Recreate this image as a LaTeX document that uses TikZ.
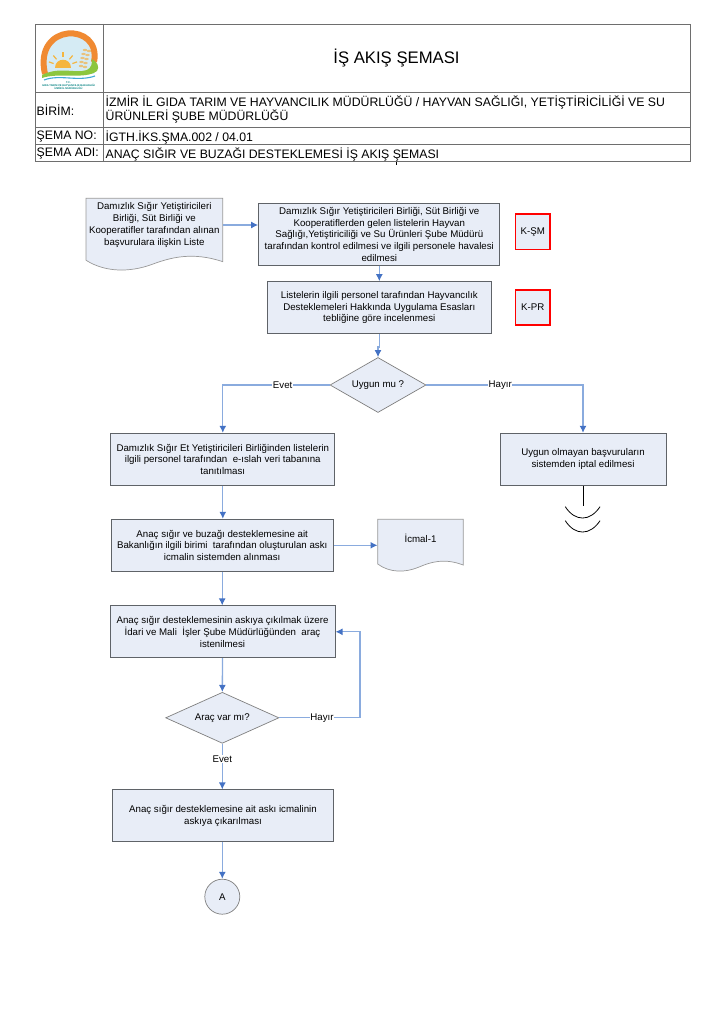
\documentclass[tikz,border=0pt]{standalone}
\usepackage{fontspec}
\setmainfont{Liberation Sans}
\usetikzlibrary{arrows.meta,shapes.geometric}
\definecolor{boxfill}{HTML}{E8EDF7}
\definecolor{boxline}{HTML}{5F6368}
\definecolor{flowline}{HTML}{8AABDE}
\definecolor{flowtip}{HTML}{4472C4}
\definecolor{gridline}{HTML}{6E6E6E}
\definecolor{logosky}{HTML}{D5EBF4}
\definecolor{logoarc}{HTML}{F08A32}
\definecolor{logosun}{HTML}{F5B53F}
\definecolor{logowheat}{HTML}{E9C27C}
\definecolor{logogreen}{HTML}{8CC63F}
\definecolor{logoblue}{HTML}{3FA9D6}
\tikzset{
	procbox/.style={draw=boxline,fill=boxfill,line width=1pt,inner sep=0pt,align=center,
		font=\fontsize{9.7}{11.7}\selectfont},
	docbox/.style={inner sep=0pt,align=center,font=\fontsize{9.7}{11.7}\selectfont},
	tagbox/.style={draw=red,fill=boxfill,line width=1.5pt,inner sep=0pt,
		minimum width=34.7pt,minimum height=35.3pt,font=\fontsize{9.7}{11.7}\selectfont},
	decbox/.style={diamond,aspect=1.75,draw=gray,fill=boxfill,line width=.7pt,inner sep=0pt,
		font=\fontsize{9.7}{11.7}\selectfont},
	flow/.style={draw=flowline,line width=1.3pt,->},
	flowlabel/.style={fill=white,inner sep=.6pt,font=\fontsize{9.7}{11.7}\selectfont},
	headtext/.style={anchor=west,inner sep=0pt,align=left,font=\fontsize{12.27}{14.5}\selectfont},
}
% wavy sheet: x, y, width, height
\newcommand{\wavesheet}[4]{
	\begin{scope}[shift={(#1,#2)},x=#3pt,y=-#4pt]
	\draw[draw=gray!80,fill=boxfill,line width=.7pt] (0,0) -- (1,0) -- (1,.88)
		.. controls (.78,.74) and (.62,.82) .. (.48,.92)
		.. controls (.32,1.03) and (.14,1.03) .. (0,.86) -- cycle;
	\end{scope}
}
\begin{document}
\begin{tikzpicture}[x=1pt,y=-1pt,>={Latex[length=7pt,width=7pt,color=flowtip]}]
\useasboundingbox (0,0) rectangle (724,1024);
\fill[white] (0,0) rectangle (724,1024);

% header table
\draw[gridline,line width=.9pt] (35,24) rectangle (690,161.7);
\draw[gridline,line width=.9pt] (35,92.7) -- (690,92.7);
\draw[gridline,line width=.9pt] (35,127.3) -- (690,127.3);
\draw[gridline,line width=.9pt] (35,144.7) -- (690,144.7);
\draw[gridline,line width=.9pt] (103,24) -- (103,161.7);
\draw[black,line width=.6pt] (396,161.7) -- (396,165);
\node[inner sep=0pt,font=\fontsize{16.7}{20}\selectfont] (title) at (396.5,58.5) {İŞ AKIŞ ŞEMASI};
\node[headtext] (birimhead) at (36.5,110.5) {BİRİM:};
\node[headtext] (birim) at (105.5,109.5) {İZMİR İL GIDA TARIM VE HAYVANCILIK MÜDÜRLÜĞÜ / HAYVAN SAĞLIĞI, YETİŞTİRİCİLİĞİ VE SU\\ÜRÜNLERİ ŞUBE MÜDÜRLÜĞÜ};
\node[headtext] (nohead) at (36.5,137) {ŞEMA NO:};
\node[headtext] (no) at (105.5,137) {İGTH.İKS.ŞMA.002 / 04.01};
\node[headtext] (adihead) at (36.5,154) {ŞEMA ADI:};
\node[headtext] (adi) at (105.5,154) {ANAÇ SIĞIR VE BUZAĞI DESTEKLEMESİ İŞ AKIŞ ŞEMASI};

% logo
\fill[logosky] (45,74) .. controls (33,22) and (102,22) .. (94,62) -- (94,74) -- cycle;
\foreach \a in {200,230,270,310,340}{
	\draw[logosun,line width=1.2pt] (63,67) ++(\a:10) -- ++(\a:5);
}
\fill[logosun] (55,68) .. controls (55,57) and (71,57) .. (71,68) -- cycle;
\foreach \y/\x in {50/87,54/85.5,58/84.5,62/83.5,66/83}{
	\fill[logowheat] (\x-2,\y) ellipse (2.2pt and 1.2pt);
	\fill[logowheat] (\x+2,\y+1) ellipse (2.2pt and 1.2pt);
}
\draw[logoarc,line width=6pt] (45,74) .. controls (33,22) and (102,22) .. (94,62);
\fill[logogreen] (42,75) .. controls (60,66) and (75,74) .. (87,70)
	.. controls (91,68) and (93,63) .. (91.5,59) .. controls (97,61) and (100,67) .. (97,71)
	.. controls (85,80) and (60,72) .. (42,78) -- cycle;
\draw[logoblue,line width=1.1pt] (44,80) .. controls (60,74) and (78,82) .. (95,76);
\node[inner sep=0pt,text=teal,font=\bfseries\fontsize{2.6}{3}\selectfont,align=center] (logotext) at (68.5,85.5)
	{T.C.\\GIDA TARIM VE HAYVANCILIK BAKANLIĞI\\İZMİR İL MÜDÜRLÜĞÜ};

% sheets first, their text nodes on top
\wavesheet{86}{198.3}{136.7}{72}
\wavesheet{377.7}{519.3}{85.6}{52}
\node[docbox,minimum width=136.7pt,minimum height=54pt] (liste) at (154.3,225)
	{Damızlık Sığır Yetiştiricileri\\Birliği, Süt Birliği ve\\Kooperatifler tarafından alınan\\başvurulara ilişkin Liste};
\node[docbox,minimum width=85.6pt,minimum height=37.4pt] (icmal) at (420.5,538.5) {İcmal-1};

% process boxes
\node[procbox,minimum width=241.3pt,minimum height=61.7pt] (kontrol) at (379.3,234.2)
	{Damızlık Sığır Yetiştiricileri Birliği, Süt Birliği ve\\Kooperatiflerden gelen listelerin Hayvan\\Sağlığı,Yetiştiriciliği ve Su Ürünleri Şube Müdürü\\tarafından kontrol edilmesi ve ilgili personele havalesi\\edilmesi};
\node[procbox,minimum width=224pt,minimum height=51.6pt] (inceleme) at (379.3,307.5)
	{Listelerin ilgili personel tarafından Hayvancılık\\Desteklemeleri Hakkında Uygulama Esasları\\tebliğine göre incelenmesi};
\node[tagbox] (ksm) at (532.7,231.7) {K-ŞM};
\node[tagbox] (kpr) at (532.7,307.5) {K-PR};
\node[decbox,minimum width=96pt,minimum height=55pt] (uygun) at (378,385) {Uygun mu ?};
\node[procbox,minimum width=224.3pt,minimum height=51.7pt] (tanitim) at (222.8,459.2)
	{Damızlık Sığır Et Yetiştiricileri Birliğinden listelerin\\ilgili personel tarafından~ e-ıslah veri tabanına\\tanıtılması};
\node[procbox,minimum width=166pt,minimum height=51.7pt] (iptal) at (583,459.2)
	{Uygun olmayan başvuruların\\sistemden iptal edilmesi};
\node[procbox,minimum width=222.3pt,minimum height=52pt] (askicmal) at (222.2,545.3)
	{Anaç sığır ve buzağı desteklemesine ait\\Bakanlığın ilgili birimi~ tarafından oluşturulan askı\\icmalin sistemden alınması};
\node[procbox,minimum width=225pt,minimum height=51.7pt] (aracist) at (222.5,631.8)
	{Anaç sığır desteklemesinin askıya çıkılmak üzere\\İdari ve Mali~ İşler Şube Müdürlüğünden~ araç\\istenilmesi};
\node[decbox,minimum width=113.3pt,minimum height=51pt] (arac) at (222.3,717.8) {Araç var mı?};
\node[procbox,minimum width=220.6pt,minimum height=51.3pt] (askiya) at (223,815.6)
	{Anaç sığır desteklemesine ait askı icmalinin\\askıya çıkarılması};
\node[circle,draw=gray,fill=boxfill,line width=.7pt,inner sep=0pt,minimum size=35pt,
	font=\fontsize{9.7}{11.7}\selectfont] (devam) at (222.3,896.7) {A};

% bend points
\coordinate (jog) at (379.3,347);
\coordinate (loopa) at (360,717.8);
\coordinate (stubend) at (583,506);

% connectors
\draw[flow] (liste.east) -- (liste.east -| kontrol.west);
\draw[flow] (kontrol.south) -- (inceleme.north);
\draw[flow] (inceleme.south) -- (jog) -| (uygun.north);
\draw[flow] (uygun.west) -| node[flowlabel,pos=.22] (evetbir) {Evet} (tanitim.north);
\draw[flow] (uygun.east) -| node[flowlabel,pos=.236] (hayirbir) {Hayır} (iptal.north);
\draw[flow] (tanitim.south) -- (tanitim.south |- askicmal.north);
\draw[flow] (askicmal.east) -- (askicmal.east -| icmal.west);
\draw[flow] (askicmal.south) -- (askicmal.south |- aracist.north);
\draw[flow] (aracist.south) -- (arac.north);
\draw[flow] (arac.east) -- node[flowlabel,pos=.53] (hayiriki) {Hayır} (loopa) |- (aracist.east);
\draw[flow] (arac.south) -- node[flowlabel,pos=.34] (evetiki) {Evet} (arac.south |- askiya.north);
\draw[flow] (askiya.south -| devam.north) -- (devam.north);

% ground mark under the rejected box
\draw[black,line width=.9pt] (iptal.south) -- (stubend);
\draw[black,line width=.8pt] (565.3,506.7) .. controls (575,521.8) and (590,521.8) .. (600,506.7);
\draw[black,line width=.8pt] (565.3,520.7) .. controls (575,535.8) and (590,535.8) .. (600,520.7);
\end{tikzpicture}
\end{document}
